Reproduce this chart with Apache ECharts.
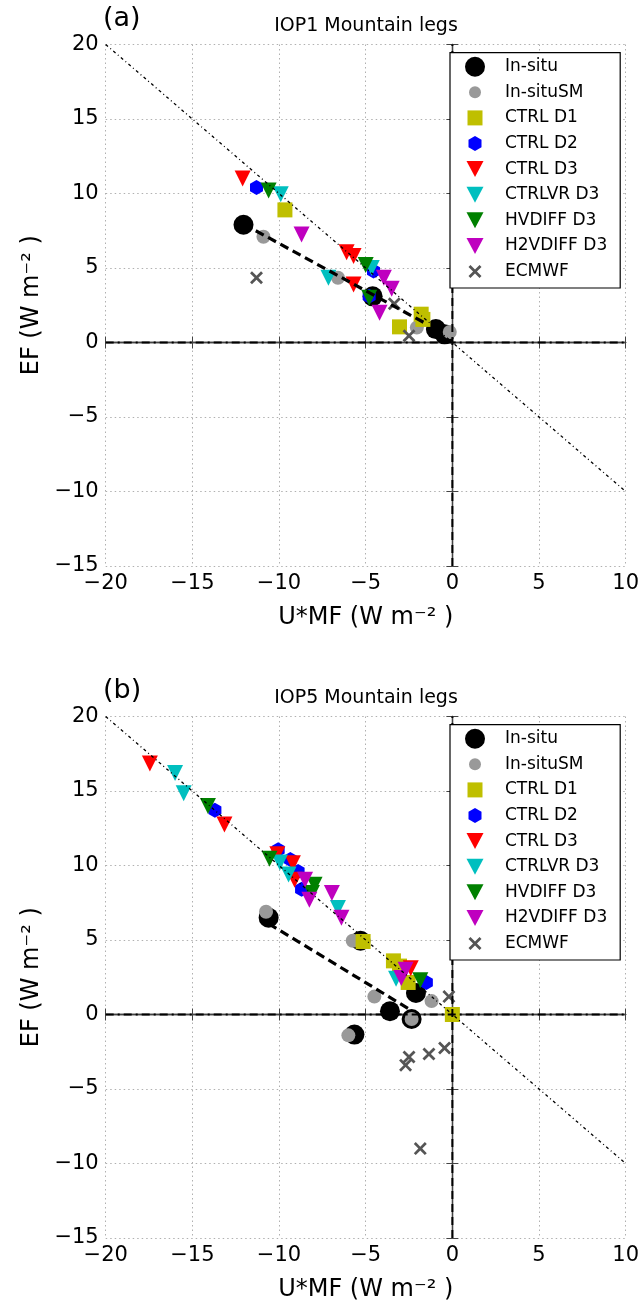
<!DOCTYPE html>
<html><head><meta charset="utf-8">
<script src="https://cdn.jsdelivr.net/npm/echarts@6/dist/echarts.min.js"></script>
<style>html,body{margin:0;padding:0;background:#fff}#c{width:643px;height:1307px}</style>
</head><body><div id="c"></div>
<script>
// ---- axis ranges / ticks ----
const xRange = [-20, 10];
const yRange = [-15, 20];
const tickStep = 5;

// ---- names, titles ----
const seriesNames = ['In-situ','In-situSM','CTRL D1','CTRL D2','CTRL D3','CTRLVR D3','HVDIFF D3','H2VDIFF D3','ECMWF'];
const panelLabels = ['(a)', '(b)'];
const panelTitles = ['IOP1 Mountain legs', 'IOP5 Mountain legs'];
const xName = 'U*MF (W m\u207B\u00B2 )';
const yName = 'EF (W m\u207B\u00B2 )';

// ---- panel (a) IOP1 data [U*MF, EF] ----
const insituA = [[-12.05,7.9],[-4.6,3.1],[-0.95,0.9],[-0.45,0.55]];
const smA     = [[-10.9,7.1],[-6.6,4.35],[-2.05,1.0],[-0.15,0.7]];
const d1A     = [[-9.66,8.9],[-3.05,1.05],[-1.8,1.9],[-1.7,1.55]];
const d2A     = [[-11.3,10.4],[-4.55,4.8],[-4.8,3.1]];
const d3A     = [[-12.1,11.0],[-6.1,6.05],[-5.7,5.8],[-5.7,3.9]];
const lvrA    = [[-9.9,9.95],[-7.15,4.35],[-4.65,5.0]];
const hvA     = [[-10.6,10.2],[-5.0,5.2],[-4.8,3.0]];
const h2vA    = [[-8.7,7.25],[-3.95,4.35],[-3.5,3.6],[-4.2,2.0]];
const ecA     = [[-11.3,4.35],[-3.35,2.6],[-2.5,0.45]];
const regA    = [[-12.05,7.95],[-1.5,1.25]];

// ---- panel (b) IOP5 data ----
const insituB = [[-10.6,6.5],[-5.3,4.95],[-2.1,1.45],[-3.6,0.22],[-2.35,-0.3],[-5.65,-1.35]];
const smB     = [[-10.75,6.9],[-5.75,4.95],[-4.5,1.2],[-1.2,0.9],[-2.35,-0.3],[-6.0,-1.4]];
const d1B     = [[-5.15,4.9],[-3.4,3.6],[-3.05,3.25],[-2.55,2.15],[0.0,0.0]];
const d2B     = [[-13.7,13.7],[-10.05,11.05],[-9.35,10.4],[-8.9,9.6],[-8.7,8.4],[-1.5,2.15]];
const d3B     = [[-17.45,16.85],[-13.15,12.75],[-10.1,10.75],[-9.2,10.15],[-9.1,9.05],[-2.4,3.1]];
const lvrB    = [[-16.0,16.2],[-15.5,14.85],[-9.95,10.2],[-9.45,9.4],[-6.6,7.15],[-3.25,2.4]];
const hvB     = [[-14.1,14.0],[-10.55,10.45],[-7.95,8.7],[-8.1,8.15],[-1.85,2.3]];
const h2vB    = [[-8.5,9.05],[-8.25,7.7],[-6.95,8.15],[-6.4,6.5],[-2.95,2.45],[-2.7,3.0]];
const ecB     = [[-0.2,1.2],[-0.45,-2.25],[-1.35,-2.65],[-2.5,-2.85],[-2.7,-3.4],[-1.85,-9.0]];
const regB    = [[-10.6,6.1],[-2.4,0.3]];

// ---- reference lines ----
const oneToOne = [[-20,20],[10,-10]];
const zeroH = [[-20,0],[10,0]];
const zeroV = [[0,-15],[0,20]];

const panelData = [
  [insituA, smA, d1A, d2A, d3A, lvrA, hvA, h2vA, ecA],
  [insituB, smB, d1B, d2B, d3B, lvrB, hvB, h2vB, ecB]
];
const regLines = [regA, regB];

// ---- styles ----
const FONT = 'DejaVu Sans';
const TRI = 'path://M0,0L2,0L1,2Z';
const HEX = 'path://M0,-1L0.866,-0.5L0.866,0.5L0,1L-0.866,0.5L-0.866,-0.5Z';
const XSYM = 'path://M0,1.5L1.5,0L5,3.5L8.5,0L10,1.5L6.5,5L10,8.5L8.5,10L5,6.5L1.5,10L0,8.5L3.5,5Z';
const TRI_ICON = 'path://M0,0M20,20M1.5,2L18.5,2L10,18Z';
const markers = [
  {symbol:'circle', size:20, color:'#000000', icon:'circle'},
  {symbol:'circle', size:14, color:'#999999', icon:'path://M0,0M20,20M16,10A6,6,0,1,1,4,10A6,6,0,1,1,16,10Z'},
  {symbol:'rect', size:15, color:'#bfbf00', icon:'path://M0,0M20,20M2.5,2.5L17.5,2.5L17.5,17.5L2.5,17.5Z'},
  {symbol:HEX, size:[13,15], color:'#0000ff', icon:'path://M0,0M20,20M10,2.5L16.5,6.25L16.5,13.75L10,17.5L3.5,13.75L3.5,6.25Z'},
  {symbol:TRI, size:[16,16], color:'#ff0000', icon:TRI_ICON},
  {symbol:TRI, size:[16,16], color:'#00bfbf', icon:TRI_ICON},
  {symbol:TRI, size:[16,16], color:'#008000', icon:TRI_ICON},
  {symbol:TRI, size:[16,16], color:'#bf00bf', icon:TRI_ICON},
  {symbol:XSYM, size:13, color:'#555555', icon:'path://M0,0M20,20M3.5,5.45L5.45,3.5L10,8.05L14.55,3.5L16.5,5.45L11.95,10L16.5,14.55L14.55,16.5L10,11.95L5.45,16.5L3.5,14.55L8.05,10Z'}
];

const GRID_LEFT = 105.7, GRID_W = 520, GRID_H = 521.5;
const gridTops = [44.5, 716.5];
const fmt = v => (v < 0 ? '\u2212' + Math.abs(v) : String(v));

const grids = [], xAxes = [], yAxes = [], series = [], legends = [], graphics = [];
gridTops.forEach((top, p) => {
  grids.push({left: GRID_LEFT, top: top, width: GRID_W, height: GRID_H});
  const axLine = {show: true, lineStyle: {color: '#444', width: 1.3}};
  const tick = {show: true, inside: true, length: 6, lineStyle: {color: '#444', width: 1}};
  xAxes.push({
    type: 'value', gridIndex: p, min: xRange[0], max: xRange[1], interval: tickStep, position: 'bottom',
    axisLine: axLine, axisTick: tick,
    axisLabel: {formatter: fmt, color: '#000', fontFamily: FONT, fontSize: 21, margin: 7},
    splitLine: {show: true, lineStyle: {color: '#b0b0b0', type: [1.5, 3], width: 1}},
    name: xName, nameLocation: 'middle', nameGap: 40,
    nameTextStyle: {color: '#000', fontFamily: FONT, fontSize: 24}
  });
  xAxes.push({
    type: 'value', gridIndex: p, min: xRange[0], max: xRange[1], interval: tickStep, position: 'top',
    axisLine: axLine, axisTick: tick, axisLabel: {show: false}, splitLine: {show: false}
  });
  yAxes.push({
    type: 'value', gridIndex: p, min: yRange[0], max: yRange[1], interval: tickStep, position: 'left',
    axisLine: axLine, axisTick: tick,
    axisLabel: {formatter: fmt, color: '#000', fontFamily: FONT, fontSize: 21, margin: 7},
    splitLine: {show: true, lineStyle: {color: '#b0b0b0', type: [1.5, 3], width: 1}},
    name: yName, nameLocation: 'middle', nameGap: 62, nameRotate: 90,
    nameTextStyle: {color: '#000', fontFamily: FONT, fontSize: 24}
  });
  yAxes.push({
    type: 'value', gridIndex: p, min: yRange[0], max: yRange[1], interval: tickStep, position: 'right',
    axisLine: axLine, axisTick: tick, axisLabel: {show: false}, splitLine: {show: false}
  });
  const xi = 2 * p, yi = 2 * p;
  seriesNames.forEach((nm, k) => {
    const m = markers[k];
    series.push({
      type: 'scatter', name: nm, xAxisIndex: xi, yAxisIndex: yi,
      symbol: m.symbol, symbolSize: m.size, data: panelData[p][k],
      itemStyle: {color: m.color, opacity: 1}, z: 2 + k * 0.01, silent: true, animation: false
    });
  });
  const lineSeries = (data, style, w) => ({
    type: 'line', xAxisIndex: xi, yAxisIndex: yi, data: data, symbol: 'none', silent: true,
    lineStyle: {color: '#000', width: w, type: style}, z: 3, animation: false
  });
  series.push(lineSeries(oneToOne, [3, 3, 1, 3], 1.3));
  series.push(lineSeries(zeroH, [8, 4, 2, 4], 2));
  series.push(lineSeries(zeroV, [8, 5], 2));
  series.push(lineSeries(regLines[p], [9, 5], 3.2));

  legends.push({
    show: true, orient: 'vertical', left: 450, top: top + 8.2,
    padding: [4, 13, 6.5, 15], itemWidth: 50, itemHeight: 20, itemGap: 5.6,
    symbolKeepAspect: true,
    backgroundColor: '#fff', borderColor: '#000', borderWidth: 1.2,
    textStyle: {fontFamily: FONT, fontSize: 17, color: '#000', lineHeight: 20},
    data: seriesNames.map((nm, k) => ({name: nm, icon: markers[k].icon})),
    selectedMode: false
  });
  graphics.push({type: 'text', x: 366, y: top - 18, z: 10,
    style: {text: panelTitles[p], font: '19px "DejaVu Sans"', fill: '#000', textAlign: 'center', textVerticalAlign: 'middle'}});
  graphics.push({type: 'text', x: 103, y: top - 26, z: 10,
    style: {text: panelLabels[p], font: '27px "DejaVu Sans"', fill: '#000', textAlign: 'left', textVerticalAlign: 'middle'}});
});

const chart = echarts.init(document.getElementById('c'), null, {renderer: 'canvas'});
chart.setOption({
  backgroundColor: '#fff',
  animation: false,
  grid: grids, xAxis: xAxes, yAxis: yAxes, series: series, legend: legends, graphic: graphics
});
</script>
</body></html>
